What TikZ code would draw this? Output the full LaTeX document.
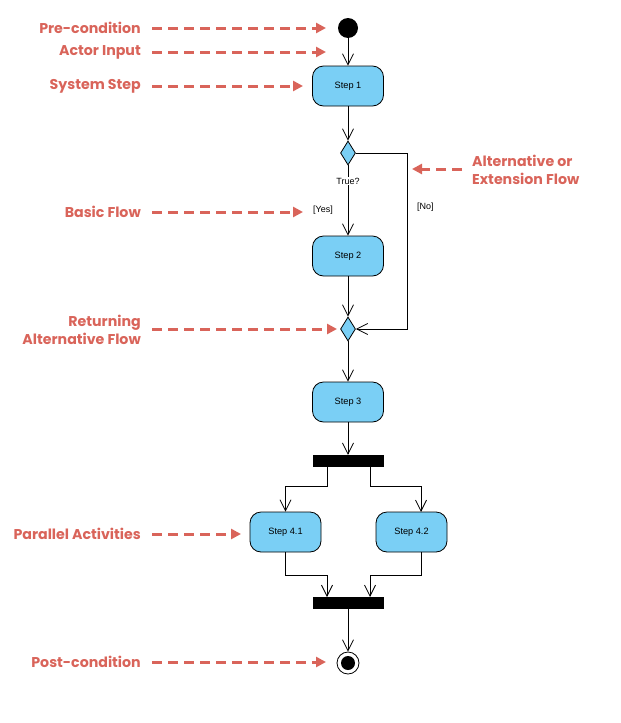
\documentclass[tikz,border=0pt]{standalone}
\usepackage{fontspec}
\setmainfont{Liberation Sans}
\newfontfamily\labfont{Poppins}
\usetikzlibrary{arrows.meta,shapes.geometric}
\definecolor{stepblue}{RGB}{122,207,245}
\definecolor{annred}{RGB}{217,100,90}
\begin{document}
\begin{tikzpicture}[x=1pt,y=-1pt,
  stepbox/.style={draw=black, line width=0.8pt, fill=stepblue, rounded corners=11pt,
    minimum width=71pt, minimum height=40pt, inner sep=0pt, font=\fontsize{9.2}{11}\selectfont},
  decision/.style={draw=black, line width=0.8pt, fill=stepblue, diamond, inner sep=0pt,
    minimum width=15pt, minimum height=24pt},
  bar/.style={fill=black, minimum width=71pt, minimum height=12pt, inner sep=0pt},
  flow/.style={draw=black, line width=0.8pt, -{Straight Barb[length=11pt,width=11pt,line width=0.8pt]}},
  guard/.style={font=\fontsize{9}{11}\selectfont, inner sep=1pt},
  ann/.style={text=annred, font=\labfont\bfseries\fontsize{14.2}{17.5}\selectfont, inner sep=0pt},
  annarrow/.style={draw=annred, line width=3pt, dash pattern=on 10pt off 6pt,
    -{Triangle[length=10pt,width=10pt]}}
]
\useasboundingbox (0,0) rectangle (621,723);

% activity nodes
\node[circle, fill=black, minimum size=20pt, inner sep=0pt] (init) at (348,28) {};
\node[stepbox] (s1) at (348,86) {Step 1};
\node[decision] (d1) at (348,153) {};
\node[stepbox] (s2) at (348,256) {Step 2};
\node[decision] (d2) at (348,329) {};
\node[stepbox] (s3) at (348,402) {Step 3};
\node[bar] (fork) at (348,461) {};
\node[stepbox] (s41) at (285.5,532) {Step 4.1};
\node[stepbox] (s42) at (411.5,532) {Step 4.2};
\node[bar] (join) at (348,603) {};
\node[circle, draw=black, line width=0.8pt, fill=white, minimum size=22pt, inner sep=0pt] (fin) at (348,663) {};
\fill[black] (fin.center) circle (7pt);

% connectors
\draw[flow] (init) -- (s1.north);
\draw[flow] (s1.south) -- (d1.north);
\draw[flow] (d1.south) -- (s2.north);
\node[guard, fill=white] (true) at (348,181) {True?};
\node[guard, anchor=east] (yes) at (334,210) {[Yes]};
\node[guard, anchor=west] (no) at (416,207) {[No]};
\coordinate (nocorner) at (407,153);
\draw[flow] (d1.east) -- (nocorner) |- (d2.east);
\draw[flow] (s2.south) -- (d2.north);
\draw[flow] (d2.south) -- (s3.north);
\draw[flow] (s3.south) -- (fork.north);

\coordinate (f1) at (327,467);
\coordinate (f2) at (370,467);
\draw[flow] (f1) -- (327,486) -| (s41.north);
\draw[flow] (f2) -- (370,486) -| (421,512);
\coordinate (j1) at (327,597);
\coordinate (j2) at (370,597);
\draw[flow] (s41.south) -- (285.5,575) -| (j1);
\draw[flow] (421,552) -- (421,575) -| (j2);
\draw[flow] (join.south) -- (fin.north);

% annotations
\node[ann, anchor=east] (apre) at (141,28) {Pre-condition};
\node[ann, anchor=east] (aact) at (141,52) {Actor Input};
\node[ann, anchor=east] (asys) at (141,86) {System Step};
\node[ann, anchor=east] (abas) at (141,212) {Basic Flow};
\node[ann, anchor=east, align=right] (aret) at (141,330) {Returning\\Alternative Flow};
\node[ann, anchor=east] (apar) at (141,534) {Parallel Activities};
\node[ann, anchor=east] (apost) at (141,662) {Post-condition};
\node[ann, anchor=west, align=left] (aalt) at (472,170) {Alternative or\\Extension Flow};

\coordinate (tpre) at (326,28);
\coordinate (tact) at (326,52);
\coordinate (tsys) at (303,86);
\coordinate (tbas) at (303,212);
\coordinate (tret) at (337,329);
\coordinate (tpar) at (241,534);
\coordinate (tpost) at (326,662);
\coordinate (talt) at (412,169);

\draw[annarrow] ([xshift=11pt]apre.east) -- (tpre);
\draw[annarrow] ([xshift=11pt]aact.east) -- (tact);
\draw[annarrow] ([xshift=11pt]asys.east) -- (tsys);
\draw[annarrow] ([xshift=11pt]abas.east) -- (tbas);
\draw[annarrow] (152,329) -- (tret);
\draw[annarrow] ([xshift=11pt]apar.east) -- (tpar);
\draw[annarrow] ([xshift=11pt]apost.east) -- (tpost);
\draw[annarrow] (462,169) -- (talt);
\end{tikzpicture}
\end{document}
